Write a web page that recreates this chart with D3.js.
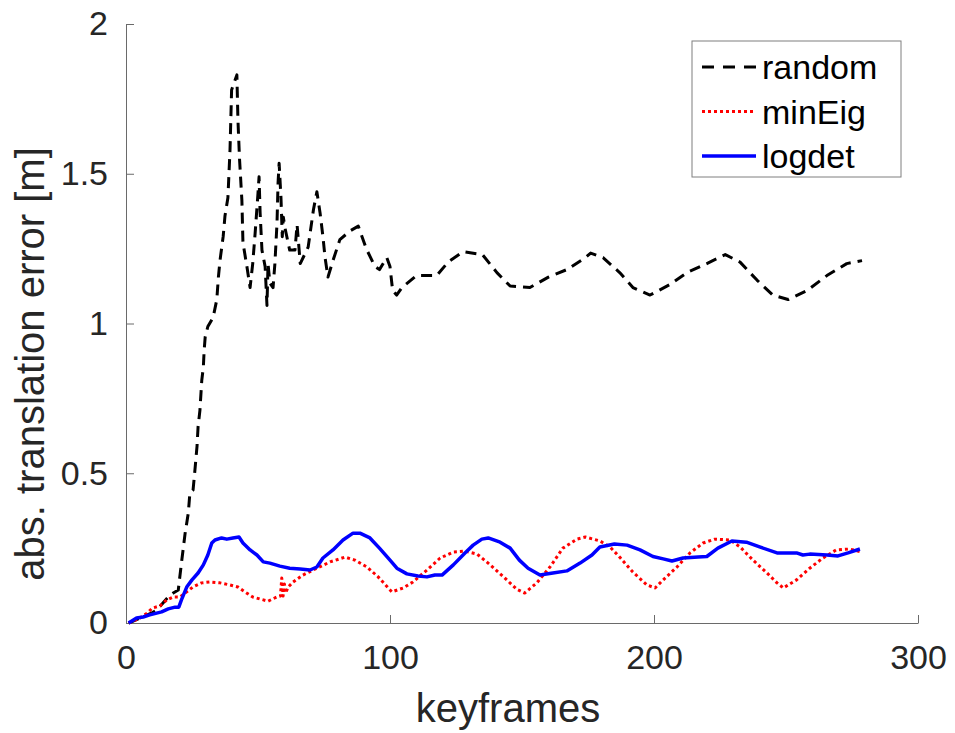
<!DOCTYPE html>
<html>
<head>
<meta charset="utf-8">
<script src="https://cdn.jsdelivr.net/npm/d3@7"></script>
<style>
  body { margin: 0; background: #fff; }
  svg { display: block; font-family: "Liberation Sans", Arial, sans-serif; }
  .axis path, .axis line { stroke: #6a6a6a; stroke-width: 1; }
  .axis text { fill: #262626; font-size: 34px; }
</style>
</head>
<body>
<div id="chart"></div>
<script>
// keyframe index and error [m] for each method
const randomX = [1, 5, 10, 11.7, 14, 16, 17.9, 19.8, 21, 22.4, 23.6, 24.2, 25.4, 26, 26.9, 27.3, 28, 28.7, 29.3, 29.6, 30, 31, 33, 34.4, 35, 35.6, 36.8, 37.5, 38.6, 39.4, 40, 42, 42.4, 43, 43.9, 44.3, 45.8, 47, 48, 48.9, 50, 50.4, 50.8, 51.5, 52.7, 53.4, 53.8, 54.5, 55.7, 56.4, 57.2, 57.6, 58, 58.7, 59.2, 59.6, 60.2, 62, 64, 64.8, 66, 69, 71, 72.3, 73.5, 74.6, 75.4, 76.5, 78.4, 81, 85, 88, 91, 94.3, 96, 98.8, 100, 101, 102.5, 104.5, 110, 117.7, 122, 127.7, 135, 140.5, 145.5, 153, 160, 167, 174, 176, 180.7, 187, 192, 198.5, 206, 212.5, 220, 227, 232.6, 239, 245, 250.8, 258, 265.5, 273, 278.8];
const randomY = [0, 0.015, 0.035, 0.043, 0.067, 0.087, 0.10, 0.11, 0.20, 0.30, 0.367, 0.434, 0.444, 0.50, 0.59, 0.655, 0.71, 0.81, 0.855, 0.91, 0.955, 0.99, 1.02, 1.08, 1.155, 1.21, 1.29, 1.36, 1.42, 1.58, 1.78, 1.83, 1.68, 1.55, 1.41, 1.27, 1.19, 1.12, 1.20, 1.30, 1.435, 1.49, 1.37, 1.245, 1.19, 1.06, 1.20, 1.135, 1.12, 1.20, 1.335, 1.47, 1.535, 1.42, 1.29, 1.355, 1.32, 1.245, 1.245, 1.33, 1.20, 1.255, 1.38, 1.44, 1.37, 1.29, 1.22, 1.155, 1.21, 1.28, 1.31, 1.325, 1.25, 1.19, 1.18, 1.22, 1.19, 1.11, 1.095, 1.12, 1.16, 1.16, 1.205, 1.24, 1.23, 1.17, 1.125, 1.12, 1.155, 1.18, 1.22, 1.235, 1.22, 1.17, 1.12, 1.095, 1.13, 1.17, 1.20, 1.23, 1.205, 1.145, 1.095, 1.08, 1.11, 1.16, 1.20, 1.21];

const minEigX = [1, 5.3, 8, 10, 12.9, 15.4, 17.9, 20.5, 23, 25.3, 28.6, 31.8, 35.6, 39.4, 42.4, 45, 48, 50.8, 53.8, 57.2, 58.5, 59, 59.5, 60, 60.5, 61.4, 63.3, 67, 72.3, 77.3, 83, 86.7, 91.3, 95.5, 100.7, 105, 108.7, 114, 119, 124, 128.4, 133, 138, 143, 148, 151, 155.6, 160.6, 165.5, 170.8, 174, 179.5, 183.3, 187, 192, 197.3, 200.4, 203.5, 208.7, 213.6, 218.6, 223, 228.8, 232.6, 237.5, 242.8, 246.6, 249, 254, 259, 264, 269, 274, 278.8];
const minEigY = [0, 0.017, 0.033, 0.05, 0.057, 0.077, 0.087, 0.087, 0.104, 0.12, 0.134, 0.137, 0.134, 0.127, 0.12, 0.104, 0.087, 0.08, 0.073, 0.087, 0.09, 0.15, 0.09, 0.13, 0.10, 0.12, 0.137, 0.16, 0.183, 0.204, 0.22, 0.21, 0.187, 0.154, 0.104, 0.117, 0.137, 0.177, 0.217, 0.237, 0.24, 0.23, 0.194, 0.154, 0.113, 0.10, 0.134, 0.187, 0.25, 0.28, 0.287, 0.274, 0.254, 0.22, 0.17, 0.127, 0.117, 0.144, 0.187, 0.234, 0.267, 0.28, 0.277, 0.254, 0.21, 0.167, 0.134, 0.117, 0.144, 0.183, 0.217, 0.244, 0.247, 0.237];

const logdetX = [1, 4, 6.5, 9, 11.6, 13.5, 16, 18.6, 20, 21, 23, 25, 27.3, 29.3, 31, 32.5, 33.7, 36.2, 38.2, 40.5, 42.8, 44.3, 47, 49.6, 52, 54.5, 58.3, 62, 66, 69.7, 72.3, 74.6, 78.4, 82.2, 86, 88.6, 92.4, 96, 100, 102.6, 106.4, 110.6, 114, 117, 119.7, 124, 128.4, 131.5, 134.8, 137.2, 141.7, 145.5, 149, 152.3, 156.8, 161.7, 167, 172, 176.5, 179.5, 185, 189.8, 194.7, 199.6, 203.5, 206.8, 211, 216.7, 220, 224.2, 229.5, 235, 240, 246.6, 254, 256.4, 259, 265.5, 269.7, 273.5, 278];
const logdetY = [0, 0.017, 0.02, 0.027, 0.033, 0.037, 0.047, 0.053, 0.053, 0.077, 0.12, 0.144, 0.167, 0.194, 0.227, 0.267, 0.277, 0.284, 0.28, 0.284, 0.287, 0.267, 0.244, 0.227, 0.204, 0.20, 0.19, 0.183, 0.18, 0.177, 0.187, 0.217, 0.244, 0.277, 0.30, 0.30, 0.284, 0.25, 0.21, 0.183, 0.164, 0.157, 0.154, 0.16, 0.16, 0.194, 0.234, 0.26, 0.28, 0.284, 0.27, 0.25, 0.21, 0.183, 0.16, 0.167, 0.174, 0.20, 0.227, 0.254, 0.264, 0.26, 0.244, 0.222, 0.214, 0.207, 0.217, 0.22, 0.222, 0.25, 0.274, 0.27, 0.254, 0.234, 0.234, 0.227, 0.23, 0.227, 0.224, 0.234, 0.247];

const seriesNames = ["random", "minEig", "logdet"];
const xTicks = [0, 100, 200, 300];
const yTicks = [0, 0.5, 1, 1.5, 2];

const width = 955, height = 733;
const margin = {top: 24, right: 37, bottom: 110, left: 126};

const svg = d3.select("#chart").append("svg")
    .attr("width", width)
    .attr("height", height);

const x = d3.scaleLinear().domain([0, 300]).range([margin.left, width - margin.right]);
const y = d3.scaleLinear().domain([0, 2]).range([height - margin.bottom, margin.top]);

// axes, ticks pointing inward like the matlab figure
svg.append("g")
    .attr("class", "axis")
    .attr("transform", `translate(0,${y(0)})`)
    .call(d3.axisBottom(x).tickValues(xTicks).tickSizeInner(-8).tickSizeOuter(0).tickPadding(22).tickFormat(d3.format("~g")));

svg.append("g")
    .attr("class", "axis")
    .attr("transform", `translate(${x(0)},0)`)
    .call(d3.axisLeft(y).tickValues(yTicks).tickSizeInner(-8).tickSizeOuter(0).tickPadding(18).tickFormat(d3.format("~g")));

svg.selectAll(".axis text").attr("font-family", "Liberation Sans, Arial, sans-serif");

// axis labels
svg.append("text")
    .attr("x", 508)
    .attr("y", 722)
    .attr("text-anchor", "middle")
    .attr("fill", "#262626")
    .style("font-size", "40px")
    .text("keyframes");

svg.append("text")
    .attr("transform", `translate(44,364) rotate(-90)`)
    .attr("text-anchor", "middle")
    .attr("fill", "#262626")
    .style("font-size", "40px")
    .text("abs. translation error [m]");

// series
const styles = {
    random: {color: "#000000", width: 3, dash: "11,7"},
    minEig: {color: "#ff0000", width: 3, dash: "3,3"},
    logdet: {color: "#0000ff", width: 3.5, dash: null}
};

const seriesData = {
    random: randomX.map((k, i) => [k, randomY[i]]),
    minEig: minEigX.map((k, i) => [k, minEigY[i]]),
    logdet: logdetX.map((k, i) => [k, logdetY[i]])
};

const line = d3.line()
    .x(d => x(d[0]))
    .y(d => y(d[1]));

// draw random first so the others sit on top of it near zero
seriesNames.forEach(name => {
    const s = styles[name];
    svg.append("path")
        .datum(seriesData[name])
        .attr("fill", "none")
        .attr("stroke", s.color)
        .attr("stroke-width", s.width)
        .attr("stroke-linejoin", "round")
        .attr("stroke-dasharray", s.dash)
        .attr("d", line);
});

// legend
const legend = svg.append("g").attr("transform", "translate(692,41)");

legend.append("rect")
    .attr("width", 209)
    .attr("height", 136)
    .attr("fill", "#fff")
    .attr("stroke", "#7f7f7f")
    .attr("stroke-width", 1);

seriesNames.forEach((name, i) => {
    const s = styles[name];
    const rowY = 26 + i * 44.5;
    legend.append("line")
        .attr("x1", 10)
        .attr("x2", 64)
        .attr("y1", rowY)
        .attr("y2", rowY)
        .attr("stroke", s.color)
        .attr("stroke-width", s.width)
        .attr("stroke-dasharray", name === "random" ? "12,9" : s.dash);
    legend.append("text")
        .attr("x", 70)
        .attr("y", rowY)
        .attr("dy", "0.36em")
        .attr("fill", "#000")
        .style("font-size", "34px")
        .text(name);
});
</script>
</body>
</html>
